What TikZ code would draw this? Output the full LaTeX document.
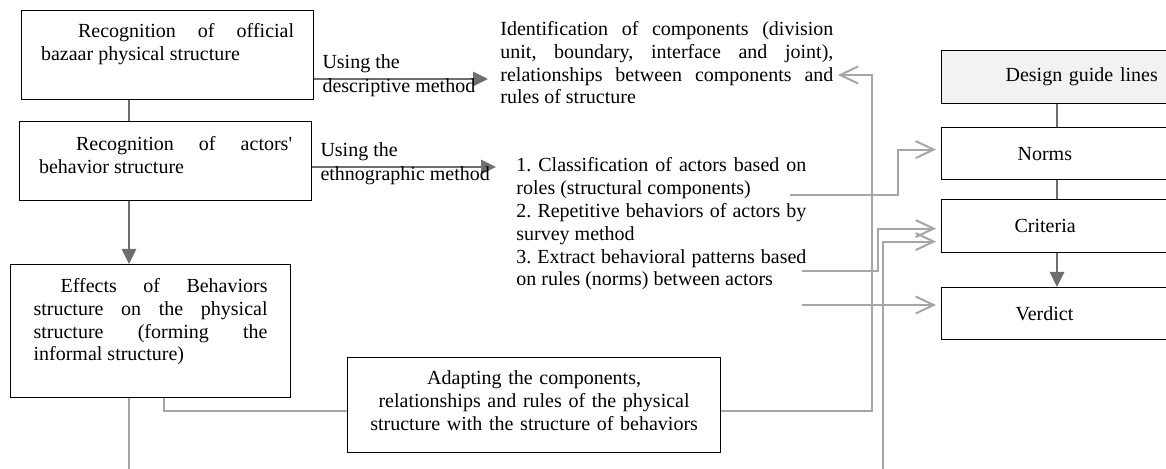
\documentclass[tikz,border=0pt]{standalone}
\usepackage{fontspec}
\setmainfont{Liberation Serif}
\usetikzlibrary{arrows.meta,positioning,calc}

\definecolor{lineDark}{HTML}{6E6E6E}
\definecolor{lineLight}{HTML}{A6A6A6}
\definecolor{guideFill}{HTML}{F2F2F2}

\hyphenpenalty=10000
\exhyphenpenalty=10000
\tolerance=10000
\frenchspacing

\begin{document}
\begin{tikzpicture}[x=0.5pt, y=-0.5pt, font=\fontsize{10pt}{11.4pt}\selectfont,
  leftbox/.style={draw, rectangle, line width=0.6pt, anchor=north west, inner ysep=0pt, align=justify},
  guidebox/.style={draw, rectangle, line width=0.6pt, anchor=north west, minimum width=135pt, text width=125pt, inner xsep=5pt, inner ysep=0pt, align=left},
  freetext/.style={anchor=base west, inner xsep=2pt, inner ysep=0pt, align=justify},
  arrowlbl/.style={anchor=base west, inner sep=0pt, xshift=3.5pt},
  darkline/.style={draw=lineDark, line width=1pt},
  darkarrow/.style={draw=lineDark, line width=1.3pt, -{Triangle[length=7.5pt,width=7pt]}},
  lightline/.style={draw=lineLight, line width=1pt},
  lightarrow/.style={draw=lineLight, line width=1pt, -{Straight Barb[length=9pt,width=8.5pt]}}]
\useasboundingbox (0,0) rectangle (1166,469);
\clip (0,0) rectangle (1166,469);

% left column
\node[leftbox, text width=126.5pt, inner xsep=9.75pt, text height=13.5pt, text depth=31pt] (phys) at (21,10) {\hspace*{18.5pt}Recognition of official bazaar physical structure};
\node[leftbox, text width=126.5pt, inner xsep=9.75pt, text height=14.5pt, text depth=25pt] (actor) at (19,121) {\hspace*{18.5pt}Recognition of actors\textquotesingle{} behavior structure};
\node[leftbox, text width=117pt, inner xsep=11.5pt, text height=14pt, text depth=52.5pt] (effect) at (10,264) {\hspace*{13.5pt}Effects of Behaviors structure on the physical structure (forming the informal structure)};
\node[leftbox, align=center, text width=182pt, inner xsep=2.25pt, text height=13.5pt, text depth=34pt] (adapt) at (347,357) {Adapting the components,\hspace*{18pt}\\ relationships and rules of the physical\\ structure with the structure of behaviors};

% middle texts
\node[freetext, text width=166.5pt] (ident) at (496,35.5) {Identification of components (division unit, boundary, interface and joint), relationships between components and rules of structure};
\node[freetext, text width=145pt] (acts) at (512,172) {1. Classification of actors based on roles (structural components)\\ 2. Repetitive behaviors of actors by survey method\\ 3. Extract behavioral patterns based on rules (norms) between actors};

% right column
\node[guidebox, fill=guideFill, minimum height=26.5pt] (guide) at (941,50) {\hspace*{27pt}Design guide lines};
\node[guidebox, minimum height=26pt] (norms) at (941,127) {\hspace*{33pt}Norms};
\node[guidebox, minimum height=26.5pt] (crit) at (941,199) {\hspace*{31.5pt}Criteria};
\node[guidebox, minimum height=26pt] (verd) at (941,287) {\hspace*{32pt}Verdict};

% bends and cut ends
\coordinate (spine) at (129,0);
\coordinate (tap) at (164,0);
\coordinate (gx) at (1057,0);
\coordinate (bottomcut) at (0,475);
\coordinate (rowA) at (0,79);
\coordinate (rowB) at (0,167);
\coordinate (rowC) at (0,411);
\coordinate (backup) at (872,75);
\coordinate (rolesend) at (790,195);
\coordinate (rolesbend) at (898,0);
\coordinate (patend) at (802,271);
\coordinate (patbend) at (878,0);
\coordinate (verdfeed) at (802,305);
\coordinate (crossup) at (883,475);

% connections
\draw[darkline] (phys.south -| spine) -- (actor.north -| spine);
\draw[darkarrow] (actor.south -| spine) -- (effect.north -| spine);
\draw[lightline] (effect.south -| spine) -- (spine |- bottomcut);
\draw[lightline] (effect.south -| tap) |- (adapt.west |- rowC);
\draw[darkarrow, shorten >=4pt] (phys.east |- rowA)
  node[arrowlbl, yshift=5pt] {Using the}
  node[arrowlbl, yshift=-6.75pt] {descriptive method} -- (ident.west |- rowA);
\draw[darkarrow, shorten >=8pt] (actor.east |- rowB)
  node[arrowlbl, yshift=5pt] {Using the}
  node[arrowlbl, yshift=-6.75pt] {ethnographic method} -- (acts.west |- rowB);
\draw[lightarrow] (adapt.east |- rowC) -| (backup) -- (ident.east |- backup);
\draw[lightarrow, shorten >=2.5pt] (rolesend) -- (rolesend -| rolesbend) |- ([yshift=2pt]norms.west);
\draw[lightarrow, shorten >=2.5pt] (patend) -- (patend -| patbend) |- ([yshift=-1.25pt]crit.west);
\draw[lightarrow, shorten >=2.5pt] (crossup) |- ([yshift=-7.75pt]crit.west);
\draw[lightarrow, shorten >=2.5pt] (verdfeed) -- (verd.west |- verdfeed);
\draw[darkline] (guide.south -| gx) -- (norms.north -| gx);
\draw[darkline] (norms.south -| gx) -- (crit.north -| gx);
\draw[darkarrow] (crit.south -| gx) -- (verd.north -| gx);
\end{tikzpicture}
\end{document}
